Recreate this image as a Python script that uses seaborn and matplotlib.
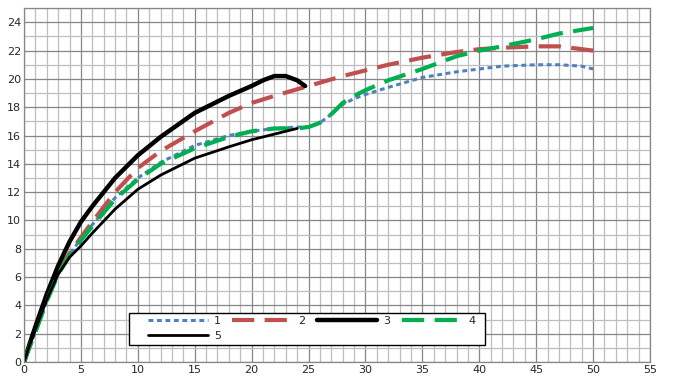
import pandas as pd
import matplotlib
matplotlib.use('Agg')
import matplotlib.pyplot as plt
from matplotlib.ticker import MultipleLocator
from matplotlib.patches import Rectangle
import seaborn as sns

sns.set_style("white")
plt.rcParams['font.family'] = ['DejaVu Sans']
plt.rcParams['lines.scale_dashes'] = False

# series 1 (blue, short dash)
x1 = [0, 0.5, 1, 2, 3, 4, 5, 6, 8, 10, 12, 15, 18, 20, 22, 24, 25, 26, 27, 28, 29, 30, 32, 35, 38, 40, 42, 45, 47, 49, 50]
y1 = [0, 1.1, 2.1, 4.3, 6.2, 7.6, 8.7, 9.7, 11.6, 13.0, 14.1, 15.3, 16.0, 16.3, 16.5, 16.6, 16.6, 16.9, 17.5, 18.2, 18.6, 18.9, 19.4, 20.1, 20.5, 20.7, 20.9, 21.0, 21.0, 20.9, 20.7]
# series 2 (red, long dash)
x2 = [0, 0.5, 1, 2, 3, 4, 5, 6, 8, 10, 12, 15, 18, 20, 22, 25, 28, 30, 32, 35, 38, 40, 42, 45, 47, 49, 50]
y2 = [0, 1.1, 2.2, 4.4, 6.3, 7.7, 8.8, 9.9, 12.0, 13.7, 14.9, 16.3, 17.6, 18.3, 18.8, 19.5, 20.2, 20.6, 21.0, 21.5, 21.9, 22.1, 22.2, 22.3, 22.3, 22.1, 22.0]
# series 3 (black, thick)
x3 = [0, 0.5, 1, 2, 3, 4, 5, 6, 8, 10, 12, 15, 18, 20, 21, 22, 23, 24, 24.7]
y3 = [0, 1.3, 2.5, 4.8, 6.8, 8.5, 9.9, 11.0, 13.0, 14.6, 15.9, 17.6, 18.8, 19.5, 19.9, 20.2, 20.2, 19.9, 19.5]
# series 4 (green, long dash)
x4 = [0, 0.5, 1, 2, 3, 4, 5, 6, 8, 10, 12, 15, 18, 20, 22, 24, 25, 26, 27, 28, 29, 30, 32, 35, 38, 40, 42, 45, 47, 50]
y4 = [0, 1.1, 2.1, 4.3, 6.2, 7.5, 8.6, 9.6, 11.5, 12.9, 14.0, 15.1, 15.9, 16.3, 16.5, 16.5, 16.6, 16.9, 17.5, 18.3, 18.8, 19.2, 19.9, 20.7, 21.6, 22.0, 22.3, 22.8, 23.2, 23.6]
# series 5 (black, thin)
x5 = [0, 0.5, 1, 2, 3, 4, 5, 6, 8, 10, 12, 15, 18, 20, 22, 24]
y5 = [0, 1.2, 2.3, 4.4, 6.2, 7.4, 8.2, 9.1, 10.8, 12.2, 13.2, 14.4, 15.2, 15.7, 16.1, 16.5]

fig, ax = plt.subplots(figsize=(6.78, 3.87), dpi=100)
fig.subplots_adjust(left=0.0354, right=0.9587, bottom=0.0646, top=0.979)

sns.lineplot(x=x1, y=y1, ax=ax, color='#4F81BD', lw=2.2, ls=(0, (3.5, 2.6)), label='1', sort=False)
sns.lineplot(x=x2, y=y2, ax=ax, color='#C0504D', lw=3, ls=(0, (16, 7.5)), label='2', sort=False)
sns.lineplot(x=x3, y=y3, ax=ax, color='black', lw=3.2, label='3', sort=False)
sns.lineplot(x=x4, y=y4, ax=ax, color='#00B050', lw=3, ls=(0, (16, 7.5)), label='4', sort=False)
sns.lineplot(x=x5, y=y5, ax=ax, color='black', lw=2, label='5', sort=False)

ax.set_xlim(0, 55)
ax.set_ylim(0, 25)
ax.xaxis.set_major_locator(MultipleLocator(5))
ax.xaxis.set_minor_locator(MultipleLocator(1))
ax.yaxis.set_major_locator(MultipleLocator(2))
ax.yaxis.set_minor_locator(MultipleLocator(1))
ax.grid(which='major', color='#868686', lw=0.9)
ax.grid(which='minor', color='#BEBEBE', lw=0.9)
ax.set_axisbelow(True)
for s in ax.spines.values():
    s.set_color('#868686')
    s.set_linewidth(0.9)
ax.tick_params(which='both', length=0, labelsize=8, pad=2)
ax.set_xlabel('')
ax.set_ylabel('')

# legend box (white with black border), legend drawn frameless inside it
ax.add_patch(Rectangle((0.1677, 0.048), 0.5687, 0.0904, transform=ax.transAxes,
                       facecolor='white', edgecolor='black', lw=1.0, zorder=4.9, clip_on=False))

# reorder so the legend reads row by row: 1 2 3 4 / 5
handles, labels = ax.get_legend_handles_labels()
order = [0, 4, 1, 2, 3]
leg = ax.legend([handles[i] for i in order], [labels[i] for i in order],
                ncol=4, loc='upper left', bbox_to_anchor=(0.1933, 0.048, 0.532, 0.0904),
                mode='expand', fontsize=8, frameon=False, handlelength=5.4,
                handletextpad=0.55, borderpad=0.25, labelspacing=0.44, borderaxespad=0)

plt.savefig('out.png', dpi=100)
